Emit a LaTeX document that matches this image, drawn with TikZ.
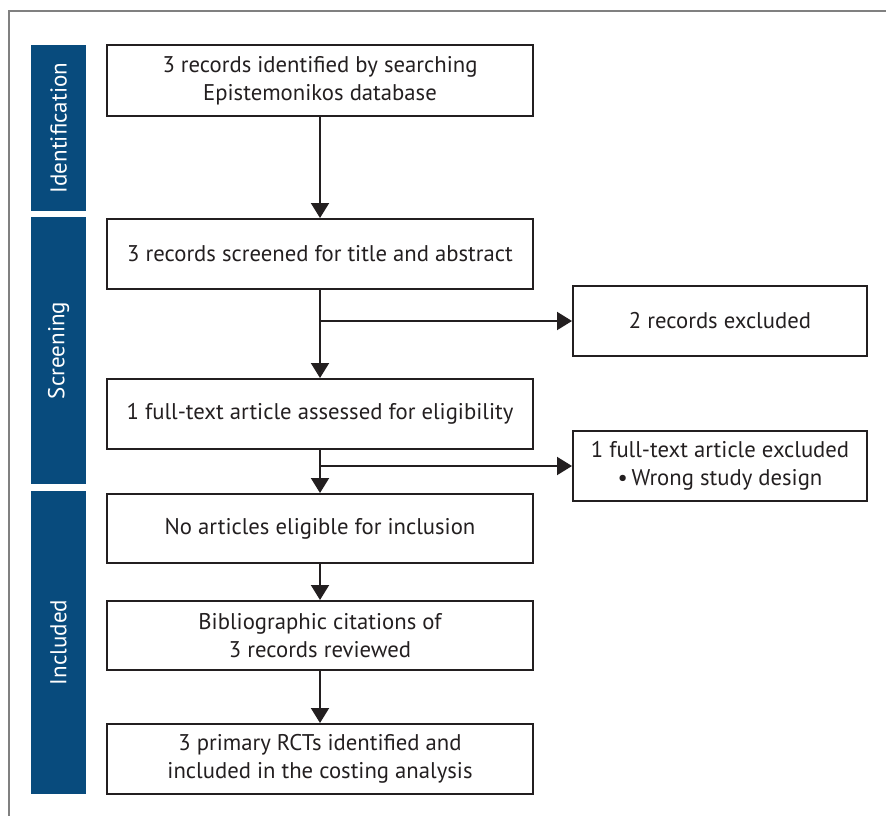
\documentclass[tikz,border=0pt]{standalone}
\usepackage{fontspec}
\setmainfont{PT Sans}
\usetikzlibrary{arrows.meta}
\definecolor{barblue}{RGB}{8,75,125}
\definecolor{ink}{RGB}{35,31,32}
\begin{document}
\begin{tikzpicture}[x=1pt,y=-1pt,
  box/.style={draw=ink, line width=2pt, minimum width=426pt, minimum height=70pt,
    align=center, font=\fontsize{22.7}{28}\selectfont, text=ink, inner sep=0pt},
  sidebox/.style={box, minimum width=294pt},
  stage/.style={fill=barblue, draw=none},
  stagelabel/.style={rotate=90, text=white, font=\fontsize{23}{27}\selectfont},
  arr/.style={draw=ink, line width=2pt, -{Triangle[length=15pt,width=18pt]}},
  frame/.style={draw=gray, line width=1.5pt}
]
\useasboundingbox (0,0) rectangle (886,816);
\draw[frame] (9,816) -- (9,11) -- (886,11);

% stage bars
\fill[stage] (31,45) rectangle (86,211);
\node[stagelabel] (lid) at (58.5,128) {Identification};
\fill[stage] (31,217) rectangle (86,484);
\node[stagelabel] (lsc) at (58.5,350.5) {Screening};
\fill[stage] (31,491) rectangle (86,794);
\node[stagelabel] (lin) at (58.5,642.5) {Included};

% main boxes
\node[box, minimum height=71pt] (b1) at (320,80.5) {3 records identified by searching\\Epistemonikos database};
\node[box] (b2) at (320,254) {3 records screened for title and abstract};
\node[box] (b3) at (320,414) {1 full-text article assessed for eligibility};
\node[box, minimum height=69pt] (b4) at (320,528.5) {No articles eligible for inclusion};
\node[box, minimum height=69pt] (b5) at (320,635.5) {Bibliographic citations of\\3 records reviewed};
\node[box] (b6) at (320,759) {3 primary RCTs identified and\\included in the costing analysis};

% side boxes
\node[sidebox] (s1) at (720,321) {2 records excluded};
\node[sidebox] (s2) at (720,466) {1 full-text article excluded\\\textbullet\,Wrong study design};

% connectors
\draw[arr] (b1) -- (b2);
\draw[arr] (b2) -- (b3);
\draw[arr] (b3) -- (b4);
\draw[arr] (b4) -- (b5);
\draw[arr] (b5) -- (b6);
\coordinate (j1) at (b2.south |- s1.west);
\coordinate (j2) at (b3.south |- s2.west);
\draw[arr] (j1) -- (s1);
\draw[arr] (j2) -- (s2);
\end{tikzpicture}
\end{document}
